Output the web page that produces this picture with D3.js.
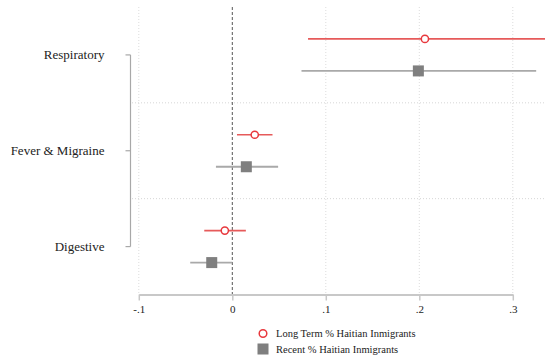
<!DOCTYPE html>
<html>
<head>
<meta charset="utf-8">
<script src="https://cdn.jsdelivr.net/npm/d3@7"></script>
<style>
  body { margin: 0; background: #fff; }
  text { font-family: "Liberation Serif", "Times New Roman", serif; fill: #222; }
</style>
</head>
<body>
<div id="chart"></div>
<script>
// categories, top to bottom
var categories = ["Respiratory", "Fever & Migraine", "Digestive"];
var seriesNames = ["Long Term % Haitian Inmigrants", "Recent % Haitian Inmigrants"];

// point estimates and confidence bounds
var longTermEst = [0.206, 0.024, -0.008];
var longTermLo  = [0.081, 0.005, -0.030];
var longTermHi  = [0.360, 0.043, 0.0145];

var recentEst = [0.199, 0.015, -0.022];
var recentLo  = [0.074, -0.0175, -0.045];
var recentHi  = [0.325, 0.049, 0.0];

var xTicks = [-0.1, 0, 0.1, 0.2, 0.3];
var xTickLabels = ["-.1", "0", ".1", ".2", ".3"];

var width = 545, height = 355;

var svg = d3.select("#chart").append("svg")
    .attr("width", width)
    .attr("height", height);

var x = d3.scaleLinear().domain([-0.1, 0.3]).range([138.8, 512.8]);
var y = d3.scaleLinear().domain([0.5, 3.5]).range([7, 294.5]);

var plotRight = width;

// grid lines (vertical)
svg.append("g").selectAll("line")
    .data(xTicks.filter(function(d) { return d !== 0; }))
    .enter().append("line")
    .attr("x1", function(d) { return x(d); })
    .attr("x2", function(d) { return x(d); })
    .attr("y1", y(0.5))
    .attr("y2", y(3.5))
    .attr("stroke", "#dcdcdc")
    .attr("stroke-width", 1)
    .attr("stroke-dasharray", "1,2");

// grid lines between categories
svg.append("g").selectAll("line")
    .data([1.5, 2.5])
    .enter().append("line")
    .attr("x1", 132)
    .attr("x2", plotRight)
    .attr("y1", function(d) { return y(d); })
    .attr("y2", function(d) { return y(d); })
    .attr("stroke", "#d6d6d6")
    .attr("stroke-width", 1)
    .attr("stroke-dasharray", "1,2");

// zero reference line
svg.append("line")
    .attr("x1", x(0)).attr("x2", x(0))
    .attr("y1", y(0.5)).attr("y2", y(3.5))
    .attr("stroke", "#555")
    .attr("stroke-width", 1)
    .attr("stroke-dasharray", "3,2");

// x axis
var xAxis = svg.append("g")
    .attr("transform", "translate(0," + y(3.5) + ")")
    .call(d3.axisBottom(x).tickValues(xTicks)
        .tickFormat(function(d, i) { return xTickLabels[i]; })
        .tickSize(6).tickSizeOuter(0).tickPadding(5));
xAxis.select(".domain").attr("stroke", "#c8c8c8").attr("stroke-width", 2);
xAxis.selectAll(".tick line").attr("stroke", "#c8c8c8").attr("stroke-width", 1.5);
xAxis.selectAll(".tick text")
    .style("font-family", "Liberation Serif, serif")
    .style("font-size", "11px")
    .attr("fill", "#222");

// y axis (category)
var yCat = d3.scaleOrdinal().domain(categories).range([1, 2, 3].map(function(d) { return y(d); }));
var yAxisG = svg.append("g").attr("transform", "translate(130.5,0)");
yAxisG.append("line")
    .attr("x1", 0).attr("x2", 0)
    .attr("y1", yCat(categories[0])).attr("y2", yCat(categories[2]))
    .attr("stroke", "#a8a8a8").attr("stroke-width", 1.2);
yAxisG.selectAll(".ytick").data(categories).enter().append("line")
    .attr("x1", -5).attr("x2", 0)
    .attr("y1", function(d) { return yCat(d); })
    .attr("y2", function(d) { return yCat(d); })
    .attr("stroke", "#a8a8a8").attr("stroke-width", 1.2);
svg.append("g").selectAll("text").data(categories).enter().append("text")
    .attr("x", 104.5)
    .attr("y", function(d) { return yCat(d); })
    .attr("dy", "0.35em")
    .attr("text-anchor", "end")
    .style("font-size", "13px")
    .text(function(d) { return d; });

var offset = 16;
var red = "#e8383d", redLine = "#e65a5a";
var grayLine = "#a9a9a9", grayMark = "#7f7f7f";

// clip for the plot region
svg.append("clipPath").attr("id", "plotclip")
    .append("rect").attr("x", 132).attr("y", 0).attr("width", width - 132).attr("height", y(3.5));

var marks = svg.append("g").attr("clip-path", "url(#plotclip)");

// recent: gray CI + square
categories.forEach(function(c, i) {
    var cy = y(i + 1) + offset;
    marks.append("line")
        .attr("x1", x(recentLo[i])).attr("x2", x(recentHi[i]))
        .attr("y1", cy).attr("y2", cy)
        .attr("stroke", grayLine).attr("stroke-width", 1.8);
    marks.append("rect")
        .attr("x", x(recentEst[i]) - 5.5).attr("y", cy - 5.5)
        .attr("width", 11).attr("height", 11)
        .attr("fill", grayMark);
});

// long term: red CI + hollow circle
categories.forEach(function(c, i) {
    var cy = y(i + 1) - offset;
    marks.append("line")
        .attr("x1", x(longTermLo[i])).attr("x2", x(longTermHi[i]))
        .attr("y1", cy).attr("y2", cy)
        .attr("stroke", redLine).attr("stroke-width", 1.6);
    marks.append("circle")
        .attr("cx", x(longTermEst[i])).attr("cy", cy)
        .attr("r", 3.6)
        .attr("fill", "#fff")
        .attr("stroke", red).attr("stroke-width", 1.5);
});

// legend
var legend = svg.append("g");
legend.append("circle")
    .attr("cx", 263).attr("cy", 333.5).attr("r", 3.8)
    .attr("fill", "#fff").attr("stroke", red).attr("stroke-width", 1.5);
legend.append("rect")
    .attr("x", 257.5).attr("y", 343.5).attr("width", 11).attr("height", 11)
    .attr("fill", grayMark);
legend.selectAll("text").data(seriesNames).enter().append("text")
    .attr("x", 276)
    .attr("y", function(d, i) { return 333.5 + i * 16; })
    .attr("dy", "0.35em")
    .style("font-size", "10.5px")
    .text(function(d) { return d; });
</script>
</body>
</html>
